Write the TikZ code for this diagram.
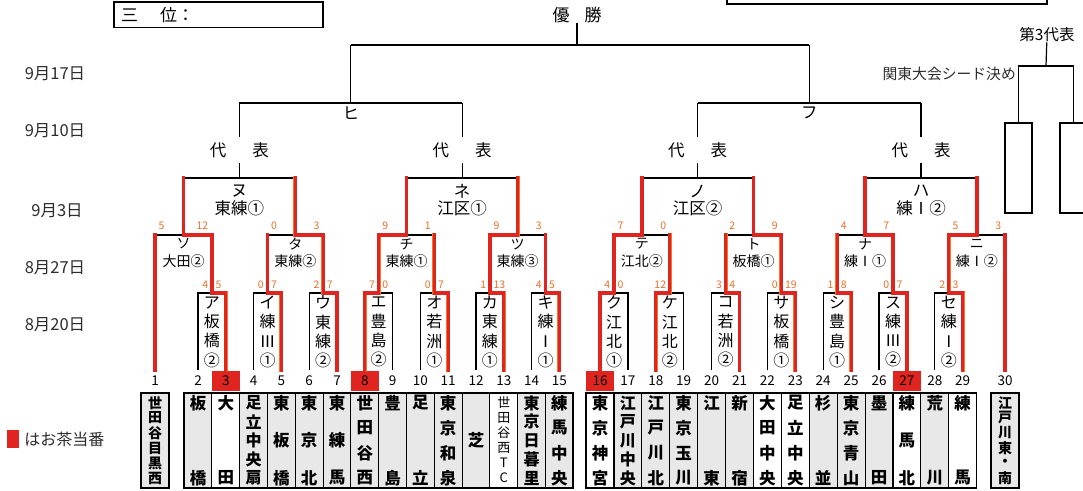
\documentclass[tikz,border=0pt]{standalone}
\usepackage{fontspec}
\setmainfont{Noto Sans CJK JP}
\usetikzlibrary{calc, positioning}
\definecolor{winred}{RGB}{224,36,32}
\definecolor{winedge}{RGB}{240,120,45}
\definecolor{scorecol}{RGB}{234,112,42}
\definecolor{cellgray}{RGB}{232,232,232}
\definecolor{labelgray}{RGB}{45,45,45}

\tikzset{
  bline/.style={line width=1.2pt, draw=black},
  rline/.style={line width=3.2pt, draw=winred, line cap=rect,
    preaction={draw=winedge, line width=3.9pt, line cap=rect}},
  cell/.style={draw=black, line width=0.9pt},
  block/.style={draw=black, line width=1.7pt},
  tname/.style={inner sep=0pt, font=\fontsize{#1}{#1}\selectfont\ifdim#1pt>13.5pt\bfseries\fi},
  num/.style={inner sep=0pt, font=\fontsize{13.5}{13.5}\selectfont},
  score/.style={inner sep=0pt, text=scorecol, font=\fontsize{10.5}{10.5}\selectfont},
  vlabel/.style={inner sep=0pt, align=center, font=\fontsize{16}{19.3}\selectfont},
  kana2/.style={inner sep=0pt, font=\fontsize{14}{14}\selectfont},
  kana3/.style={inner sep=0pt, font=\fontsize{16.5}{16.5}\selectfont},
  daihyo/.style={inner sep=0pt, minimum height=25pt, font=\fontsize{16.5}{16.5}\selectfont},
  datelbl/.style={inner sep=0pt, text=labelgray, font=\fontsize{16.5}{16.5}\selectfont},
  seedbox/.style={draw=black, line width=1.2pt, minimum width=27pt, minimum height=90pt, inner sep=0pt},
}

\begin{document}
\begin{tikzpicture}[x=1pt, y=-1pt]
  \useasboundingbox (0,0) rectangle (1083,490);
  \fill[white] (0,0) rectangle (1083,490);

  % header
  \draw[bline] (114,2) rectangle (323,27.5);
  \node[anchor=west, inner sep=0pt, font=\fontsize{17}{17}\selectfont] (third) at (121,15) {三\hspace{22pt}位：};
  \draw[bline] (727,-10) rectangle (1047,4);

  \node[datelbl] (d1) at (55,74) {9月17日};
  \node[datelbl] (d2) at (55,131) {9月10日};
  \node[datelbl] (d3) at (57,211) {9月3日};
  \node[datelbl] (d4) at (55,268) {8月27日};
  \node[datelbl] (d5) at (55,325) {8月20日};

  \foreach \n/\x in {1/155, 2/198, 3/225.8, 4/253.6, 5/281.4, 6/309.2, 7/337, 8/364.8,
      9/392.6, 10/420.4, 11/448.2, 12/476, 13/503.8, 14/531.6, 15/559.4, 16/600,
      17/627.9, 18/655.8, 19/683.7, 20/711.6, 21/739.5, 22/767.4, 23/795.3, 24/823.2,
      25/851.1, 26/879, 27/906.9, 28/934.8, 29/962.7, 30/1005}
    \coordinate (t\n) at (\x,370);

  \foreach \k/\x in {1/183.5, 2/295.3, 3/406.5, 4/517.7, 5/641.9, 6/753.5, 7/865, 8/976.9}
    \coordinate (r2-\k) at (\x,235);
  \foreach \k/\x in {1/239.4, 2/462.1, 3/697.7, 4/921}
    \coordinate (r3-\k) at (\x,178);
  \coordinate (r4-1) at (350.8,103);
  \coordinate (r4-2) at (809.4,103);
  \coordinate (r5) at (577,45);

  % team cells
  \foreach \n in {1,...,30}
    \draw[cell, fill=cellgray] ($(t\n)+(-13.9,23)$) rectangle ($(t\n)+(13.9,118)$);
  \foreach \n in {3,13,16,22,23,27,29}
    \draw[cell, fill=white] ($(t\n)+(-13.9,23)$) rectangle ($(t\n)+(13.9,118)$);
  \draw[block] ($(t1)+(-13.9,23)$) rectangle ($(t1)+(13.9,118)$);
  \draw[block] ($(t2)+(-13.9,23)$) rectangle ($(t15)+(13.9,118)$);
  \draw[block] ($(t16)+(-13.9,23)$) rectangle ($(t29)+(13.9,118)$);
  \draw[block] ($(t30)+(-13.9,23)$) rectangle ($(t30)+(13.9,118)$);

  \foreach \n/\s/\m/\ch in {1/14/6/{世,田,谷,目,黒,西}, 2/16.5/2/{板,橋}, 3/16.5/2/{大,田},
      4/16/5/{足,立,中,央,扇}, 5/16.5/3/{東,板,橋}, 6/16.5/3/{東,京,北}, 7/16.5/3/{東,練,馬},
      8/16.5/4/{世,田,谷,西}, 9/16.5/2/{豊,島}, 10/16.5/2/{足,立}, 11/16.5/4/{東,京,和,泉},
      12/16.5/1/{芝}, 13/13/6/{世,田,谷,西,T,C}, 14/16/5/{東,京,日,暮,里},
      15/16.5/4/{練,馬,中,央}, 16/16.5/4/{東,京,神,宮}, 17/16/5/{江,戸,川,中,央},
      18/16.5/4/{江,戸,川,北}, 19/16.5/4/{東,京,玉,川}, 20/16.5/2/{江,東}, 21/16.5/2/{新,宿},
      22/16.5/4/{大,田,中,央}, 23/16.5/4/{足,立,中,央}, 24/16.5/2/{杉,並},
      25/16.5/4/{東,京,青,山}, 26/16.5/2/{墨,田}, 27/16.5/3/{練,馬,北}, 28/16.5/2/{荒,川},
      29/16.5/2/{練,馬}, 30/14/6/{江,戸,川,東,・,南}}
    \foreach \c [count=\k] in \ch
      \node[tname=\s] (tn\n-\k) at ($(t\n)+(0,{33+37.5*(\m==1)+75*(\k-1)/max(\m-1,1)})$) {\c};

  \foreach \n in {3,8,16,27}
    \fill[winred] ($(t\n)+(-14,1)$) rectangle ($(t\n)+(14,21)$);
  \foreach \n in {1,...,30}
    \node[num] (no\n) at ($(t\n)+(0,11)$) {\n};

  % first round
  \foreach \k/\a/\b/\x/\kana/\ch/\sa/\sb in {
      1/2/3/211.9/ア/{板\\橋\\②}/4/5, 2/4/5/267.5/イ/{練\\Ⅲ\\①}/0/7,
      3/6/7/323.1/ウ/{東\\練\\②}/2/7, 4/8/9/378.7/エ/{豊\\島\\②}/7/0,
      5/10/11/434.3/オ/{若\\洲\\①}/0/7, 6/12/13/489.9/カ/{東\\練\\①}/1/13,
      7/14/15/545.5/キ/{練\\Ⅰ\\①}/4/5, 8/16/17/614/ク/{江\\北\\①}/4/0,
      9/18/19/669.8/ケ/{江\\北\\②}/12/{}, 10/20/21/725.6/コ/{若\\洲\\②}/3/4,
      11/22/23/781.4/サ/{板\\橋\\①}/0/19, 12/24/25/837.2/シ/{豊\\島\\①}/1/8,
      13/26/27/893/ス/{練\\Ⅲ\\②}/0/7, 14/28/29/948.8/セ/{練\\Ⅰ\\②}/2/3}{
    \coordinate (r1-\k) at (\x,293);
    \draw[bline] (t\a) |- (r1-\k) -| (t\b);
    \node[vlabel] (v1-\k) at (\x,332) {\kana\\\ch};
    \node[score, anchor=east] (sa1-\k) at (\x-3.5,285) {\sa};
    \node[score, anchor=west] (sb1-\k) at (\x+3.5,285) {\sb};
  }

  % second round
  \foreach \k/\L/\R/\kana/\nm/\sa/\sb in {
      1/t1/r1-1/ソ/大田②/5/12, 2/r1-2/r1-3/タ/東練②/0/3,
      3/r1-4/r1-5/チ/東練①/9/1, 4/r1-6/r1-7/ツ/東練③/9/3,
      5/r1-8/r1-9/テ/江北②/7/0, 6/r1-10/r1-11/ト/板橋①/2/9,
      7/r1-12/r1-13/ナ/練Ⅰ①/4/7, 8/r1-14/t30/ニ/練Ⅰ②/5/3}{
    \draw[bline] (\L |- r2-\k) -- (\R |- r2-\k);
    \node[kana2] (k2-\k) at ($(r2-\k)+(0,9)$) {\kana};
    \node[kana2] (m2-\k) at ($(r2-\k)+(0,26)$) {\nm};
    \node[score, anchor=west] (sa2-\k) at ($(\L |- r2-\k)+(3.5,-9)$) {\sa};
    \node[score, anchor=east] (sb2-\k) at ($(\R |- r2-\k)+(-3.5,-9)$) {\sb};
  }

  % third round and up
  \foreach \k/\L/\R/\p/\kana/\nm in {1/r2-1/r2-2/1/ヌ/東練①, 2/r2-3/r2-4/1/ネ/江区①,
      3/r2-5/r2-6/2/ノ/江区②, 4/r2-7/r2-8/2/ハ/練Ⅰ②}{
    \draw[bline] (\L |- r3-\k) -- (\R |- r3-\k);
    \node[kana3] (k3-\k) at ($(r3-\k)+(0,13)$) {\kana};
    \node[kana3] (m3-\k) at ($(r3-\k)+(0,30)$) {\nm};
    \node[daihyo] (dh-\k) at ($(r3-\k)+(0,-28)$) {代\hspace{26pt}表};
    \draw[bline] (r3-\k) -- (dh-\k);
    \draw[bline] (dh-\k) -- (r3-\k |- r4-\p);
  }
  \draw[bline] (r3-1 |- r4-1) -- (r3-2 |- r4-1);
  \draw[bline] (r3-3 |- r4-2) -- (r3-4 |- r4-2);
  \node[kana3] (hi) at ($(r4-1)+(0,10)$) {ヒ};
  \node[kana3] (fu) at ($(r4-2)+(0,10)$) {フ};
  \draw[bline] (r4-1) -- (r4-1 |- r5);
  \draw[bline] (r4-2) -- (r4-2 |- r5);
  \draw[bline] (r4-1 |- r5) -- (r4-2 |- r5);
  \node[inner sep=0pt, font=\fontsize{17}{17}\selectfont] (yusho) at (577,15) {優\hspace{15pt}勝};
  \draw[bline] (r5) -- (yusho);

  % winners
  \foreach \k/\w/\p in {1/t3/1, 2/t5/2, 3/t7/2, 4/t8/3, 5/t11/3, 6/t13/4, 7/t15/4,
      8/t16/5, 9/t18/5, 10/t21/6, 11/t23/6, 12/t25/7, 13/t27/7, 14/t29/8}
    \draw[rline] (\w) |- (r1-\k) -- (r1-\k |- r2-\p);
  \foreach \k/\w/\p in {1/r1-1/1, 2/r1-3/1, 3/r1-4/2, 4/r1-6/2, 5/r1-8/3, 6/r1-11/3,
      7/r1-13/4, 8/r1-14/4}
    \draw[rline] (\w |- r2-\k) -- (r2-\k) -- (r2-\k |- r3-\p);
  \draw[rline] (t1) -- (t1 |- r2-1);
  \draw[rline] (t30) -- (t30 |- r2-8);

  % kanto seed
  \node[inner sep=0pt, font=\fontsize{15.5}{15.5}\selectfont] (rep3) at (1047,35) {第3代表};
  \node[seedbox] (sq1) at (1018.5,168) {};
  \node[seedbox] (sq2) at (1073.5,168) {};
  \coordinate (q0) at (1046,66);
  \draw[bline] (sq1.north) |- (q0) -| (sq2.north);
  \draw[bline] (q0) -- (rep3);
  \node[anchor=east, inner sep=0pt, text=labelgray, font=\fontsize{14.8}{14.8}\selectfont] (seed) at (1016,74) {関東大会シード決め};

  % legend
  \node[fill=winred, minimum width=12pt, minimum height=18pt, inner sep=0pt] (key) at (13,439) {};
  \node[right=5pt of key, inner sep=0pt, text=labelgray, font=\fontsize{16}{16}\selectfont] (keytext) {はお茶当番};
\end{tikzpicture}
\end{document}
